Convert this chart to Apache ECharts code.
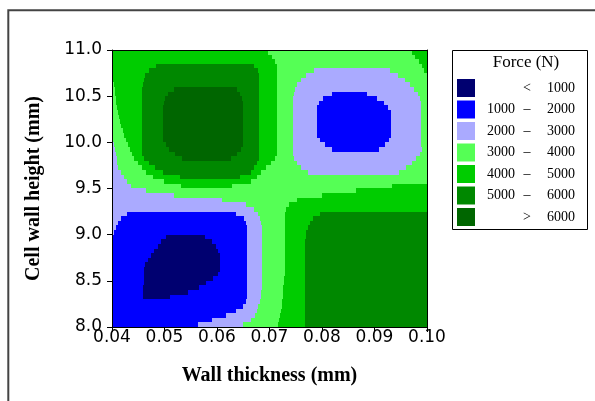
<!DOCTYPE html>
<html>
<head>
<meta charset="utf-8">
<script src="https://cdn.jsdelivr.net/npm/echarts@6/dist/echarts.min.js"></script>
<style>
  html, body { margin: 0; padding: 0; background: #fff; }
  #chart { width: 595px; height: 401px; }
</style>
</head>
<body>
<div id="chart"></div>
<script>
// force bands (N), index 0 = lowest force
const bandLow = [null, 1000, 2000, 3000, 4000, 5000, 6000];
const bandHigh = [1000, 2000, 3000, 4000, 5000, 6000, null];
const bandColors = ["#000070", "#0000ff", "#aaaaff", "#55ff55", "#00cc00", "#008800", "#006600"];

// contour map, one row per 0.05 mm of height,
// top row first (11.00 -> 10.95). each entry: [band, wall thickness where band ends]
const yTop = 11.0;
const rowStep = 0.05;
const xFirst = 0.04;
const bandRows = [
  [[4, .0697], [3, .0971], [4, .1]],
  [[4, .0705], [3, .0977], [4, .1]],
  [[4, .0710], [3, .0985], [4, .1]],
  [[4, .0484], [5, .0670], [4, .0714], [3, .0991], [4, .1]],
  [[4, .0470], [5, .0678], [4, .0714], [3, .0785], [2, .0930], [3, .0994], [4, .1]],
  [[4, .0463], [5, .0680], [4, .0714], [3, .0770], [2, .0945], [3, .1]],
  [[4, .0461], [5, .0680], [4, .0714], [3, .0760], [2, .0958], [3, .1]],
  [[3, .0404], [4, .0459], [5, .0680], [4, .0714], [3, .0752], [2, .0968], [3, .1]],
  [[3, .0406], [4, .0457], [5, .0518], [6, .0638], [5, .0680], [4, .0714], [3, .0749], [2, .0975], [3, .1]],
  [[3, .0406], [4, .0457], [5, .0507], [6, .0644], [5, .0680], [4, .0714], [3, .0747], [2, .0819], [1, .0886], [2, .0983], [3, .1]],
  [[3, .0408], [4, .0457], [5, .0501], [6, .0648], [5, .0680], [4, .0714], [3, .0745], [2, .0802], [1, .0905], [2, .0987], [3, .1]],
  [[3, .0408], [4, .0457], [5, .0499], [6, .0650], [5, .0680], [4, .0714], [3, .0745], [2, .0794], [1, .0918], [2, .0989], [3, .1]],
  [[3, .0410], [4, .0457], [5, .0497], [6, .0650], [5, .0680], [4, .0714], [3, .0745], [2, .0790], [1, .0926], [2, .0989], [3, .1]],
  [[3, .0411], [4, .0457], [5, .0497], [6, .0650], [5, .0680], [4, .0714], [3, .0745], [2, .0790], [1, .0931], [2, .0989], [3, .1]],
  [[3, .0413], [4, .0457], [5, .0497], [6, .0650], [5, .0680], [4, .0714], [3, .0745], [2, .0790], [1, .0931], [2, .0989], [3, .1]],
  [[3, .0415], [4, .0457], [5, .0497], [6, .0650], [5, .0680], [4, .0714], [3, .0745], [2, .0790], [1, .0931], [2, .0989], [3, .1]],
  [[3, .0417], [4, .0457], [5, .0497], [6, .0650], [5, .0680], [4, .0714], [3, .0745], [2, .0790], [1, .0931], [2, .0989], [3, .1]],
  [[3, .0420], [4, .0457], [5, .0497], [6, .0650], [5, .0680], [4, .0714], [3, .0745], [2, .0790], [1, .0931], [2, .0989], [3, .1]],
  [[3, .0423], [4, .0457], [5, .0497], [6, .0650], [5, .0680], [4, .0714], [3, .0745], [2, .0790], [1, .0931], [2, .0989], [3, .1]],
  [[2, .0402], [3, .0427], [4, .0457], [5, .0497], [6, .0650], [5, .0680], [4, .0714], [3, .0745], [2, .0796], [1, .0928], [2, .0989], [3, .1]],
  [[2, .0404], [3, .0430], [4, .0457], [5, .0503], [6, .0650], [5, .0680], [4, .0714], [3, .0745], [2, .0806], [1, .0920], [2, .0989], [3, .1]],
  [[2, .0406], [3, .0434], [4, .0457], [5, .0509], [6, .0646], [5, .0680], [4, .0714], [3, .0745], [2, .0819], [1, .0909], [2, .0991], [3, .1]],
  [[2, .0408], [3, .0438], [4, .0457], [5, .0520], [6, .0638], [5, .0680], [4, .0714], [3, .0745], [2, .0987], [3, .1]],
  [[2, .0410], [3, .0442], [4, .0461], [5, .0533], [6, .0627], [5, .0680], [4, .0710], [3, .0747], [2, .0979], [3, .1]],
  [[2, .0410], [3, .0450], [4, .0470], [5, .0676], [4, .0703], [3, .0752], [2, .0971], [3, .1]],
  [[2, .0411], [3, .0457], [4, .0482], [5, .0670], [4, .0693], [3, .0760], [2, .0960], [3, .1]],
  [[2, .0417], [3, .0465], [4, .0497], [5, .0665], [4, .0684], [3, .0773], [2, .0947], [3, .1]],
  [[2, .0423], [3, .0478], [4, .0530], [5, .0644], [4, .0676], [3, .1]],
  [[2, .0429], [3, .0499], [4, .0665], [3, .1]],
  [[2, .0436], [3, .0531], [4, .0629], [3, .0933], [4, .1]],
  [[2, .0465], [3, .0865], [4, .1]],
  [[2, .0518], [3, .0800], [4, .1]],
  [[2, .0610], [3, .0752], [4, .1]],
  [[2, .0655], [3, .0737], [4, .1]],
  [[2, .0670], [3, .0731], [4, .1]],
  [[2, .0429], [1, .0636], [2, .0678], [3, .0730], [4, .0796], [5, .1]],
  [[2, .0417], [1, .0651], [2, .0682], [3, .0730], [4, .0783], [5, .1]],
  [[2, .0411], [1, .0655], [2, .0684], [3, .0730], [4, .0777], [5, .1]],
  [[2, .0408], [1, .0657], [2, .0686], [3, .0730], [4, .0773], [5, .1]],
  [[2, .0404], [1, .0657], [2, .0686], [3, .0730], [4, .0770], [5, .1]],
  [[2, .0402], [1, .0503], [0, .0577], [1, .0657], [2, .0686], [3, .0730], [4, .0770], [5, .1]],
  [[1, .0493], [0, .0590], [1, .0657], [2, .0686], [3, .0730], [4, .0768], [5, .1]],
  [[1, .0488], [0, .0598], [1, .0657], [2, .0686], [3, .0730], [4, .0768], [5, .1]],
  [[1, .0480], [0, .0602], [1, .0657], [2, .0686], [3, .0730], [4, .0768], [5, .1]],
  [[1, .0474], [0, .0606], [1, .0657], [2, .0686], [3, .0730], [4, .0768], [5, .1]],
  [[1, .0469], [0, .0606], [1, .0657], [2, .0686], [3, .0730], [4, .0768], [5, .1]],
  [[1, .0463], [0, .0606], [1, .0657], [2, .0686], [3, .0730], [4, .0768], [5, .1]],
  [[1, .0461], [0, .0606], [1, .0657], [2, .0686], [3, .0730], [4, .0768], [5, .1]],
  [[1, .0461], [0, .0602], [1, .0657], [2, .0686], [3, .0730], [4, .0768], [5, .1]],
  [[1, .0461], [0, .0592], [1, .0657], [2, .0686], [3, .0728], [4, .0768], [5, .1]],
  [[1, .0461], [0, .0579], [1, .0657], [2, .0686], [3, .0728], [4, .0768], [5, .1]],
  [[1, .0459], [0, .0566], [1, .0657], [2, .0686], [3, .0726], [4, .0768], [5, .1]],
  [[1, .0459], [0, .0545], [1, .0657], [2, .0683], [3, .0726], [4, .0768], [5, .1]],
  [[1, .0459], [0, .0511], [1, .0657], [2, .0683], [3, .0725], [4, .0768], [5, .1]],
  [[1, .0655], [2, .0681], [3, .0724], [4, .0768], [5, .1]],
  [[1, .0650], [2, .0678], [3, .0724], [4, .0768], [5, .1]],
  [[1, .0636], [2, .0676], [3, .0722], [4, .0768], [5, .1]],
  [[1, .0617], [2, .0673], [3, .0720], [4, .0768], [5, .1]],
  [[1, .0590], [2, .0665], [3, .0718], [4, .0768], [5, .1]],
  [[1, .0564], [2, .0650], [3, .0716], [4, .0768], [5, .1]]
];

// one rectangle per run: [x0, x1, yLow, yHigh, band]
const cells = [];
bandRows.forEach((row, i) => {
  const yHi = yTop - rowStep * i;
  const yLo = yHi - rowStep;
  let x0 = xFirst;
  row.forEach(([band, x1]) => {
    cells.push([x0, x1, yLo, yHi, band]);
    x0 = x1;
  });
});

const chart = echarts.init(document.getElementById("chart"));

const sansLabel = { color: "#000", fontFamily: "DejaVu Sans", fontSize: 17 };
const titleFont = { color: "#000", fontFamily: "Liberation Serif", fontWeight: "bold", fontSize: 20 };
const blackLine = { color: "#000", width: 1 };
const legendFont = '14px "Liberation Serif"';

// legend drawn by hand so the "from – to" columns line up
const legendItems = [];
const legendTop = 88;
const legendGap = 21.5;
bandColors.forEach((c, i) => {
  const cy = legendTop + legendGap * i;
  legendItems.push({
    type: "rect", z: 101,
    shape: { x: 457, y: cy - 9, width: 18, height: 18 },
    style: { fill: c }
  });
  const sep = bandLow[i] == null ? "<" : bandHigh[i] == null ? ">" : "\u2013";
  if (bandLow[i] != null && bandHigh[i] != null) {
    legendItems.push({
      type: "text", z: 101, x: 515, y: cy,
      style: { text: String(bandLow[i]), align: "right", verticalAlign: "middle", font: legendFont, fill: "#000" }
    });
  }
  legendItems.push({
    type: "text", z: 101, x: 527, y: cy,
    style: { text: sep, align: "center", verticalAlign: "middle", font: legendFont, fill: "#000" }
  });
  legendItems.push({
    type: "text", z: 101, x: 575, y: cy,
    style: { text: String(bandHigh[i] != null ? bandHigh[i] : bandLow[i]), align: "right", verticalAlign: "middle", font: legendFont, fill: "#000" }
  });
});

const option = {
  animation: false,
  backgroundColor: "#fff",
  grid: { left: 112, right: 168, top: 50, bottom: 74, outerBoundsMode: "none" },
  xAxis: [
    {
      type: "value", min: 0.04, max: 0.10, interval: 0.01, z: 5,
      axisLine: { lineStyle: blackLine },
      axisTick: { length: 5, lineStyle: blackLine },
      axisLabel: Object.assign({ margin: 2, formatter: v => v.toFixed(2) }, sansLabel),
      splitLine: { show: false },
      name: "Wall thickness (mm)", nameLocation: "middle", nameGap: 39,
      nameTextStyle: titleFont
    },
    {
      type: "value", min: 0.04, max: 0.10, position: "top", z: 5,
      axisLine: { show: true, lineStyle: blackLine },
      axisTick: { show: false }, axisLabel: { show: false }, splitLine: { show: false }
    }
  ],
  yAxis: [
    {
      type: "value", min: 8, max: 11, interval: 0.5, z: 5,
      axisLine: { lineStyle: blackLine },
      axisTick: { length: 5, lineStyle: blackLine },
      axisLabel: Object.assign({ margin: 10, formatter: v => v.toFixed(1) }, sansLabel),
      splitLine: { show: false },
      name: "Cell wall height (mm)", nameLocation: "middle", nameGap: 68,
      nameTextStyle: titleFont
    },
    {
      type: "value", min: 8, max: 11, position: "right", z: 5,
      axisLine: { show: true, lineStyle: blackLine },
      axisTick: { show: false }, axisLabel: { show: false }, splitLine: { show: false }
    }
  ],
  series: [
    {
      type: "custom",
      xAxisIndex: 0,
      yAxisIndex: 0,
      data: cells,
      encode: { x: [0, 1], y: [2, 3] },
      renderItem: function (params, api) {
        const p0 = api.coord([api.value(0), api.value(3)]);
        const p1 = api.coord([api.value(1), api.value(2)]);
        const x = Math.round(p0[0]), y = Math.round(p0[1]);
        return {
          type: "rect",
          shape: { x: x, y: y, width: Math.round(p1[0]) - x, height: Math.round(p1[1]) - y },
          style: { fill: bandColors[api.value(4)] }
        };
      }
    }
  ],
  graphic: [
    {
      type: "rect", z: 100,
      shape: { x: 8.3, y: 10.3, width: 640, height: 440 },
      style: { fill: null, stroke: "#444", lineWidth: 2 }
    },
    {
      type: "rect", z: 100,
      shape: { x: 452.5, y: 50.5, width: 135, height: 179 },
      style: { fill: "#fff", stroke: "#000", lineWidth: 1 }
    },
    {
      type: "text", z: 101, x: 526, y: 63,
      style: { text: "Force (N)", align: "center", verticalAlign: "middle", font: '17px "Liberation Serif"', fill: "#000" }
    }
  ].concat(legendItems)
};

chart.setOption(option);
window.addEventListener("resize", () => chart.resize());
</script>
</body>
</html>
